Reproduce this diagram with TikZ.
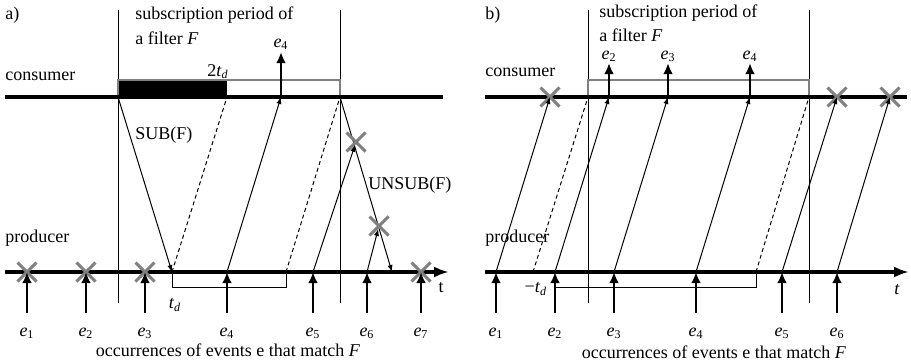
\documentclass[tikz,border=0pt]{standalone}
\usepackage{fontspec}
\setmainfont{Liberation Serif}
\usetikzlibrary{arrows.meta,shapes.misc,positioning,calc}
\definecolor{MarkGray}{RGB}{128,128,128}
\newcommand{\ev}[1]{\textit{e}\textsubscript{#1}}
\newcommand{\tdly}{\textit{t}\textsubscript{\textit{d}}}
\tikzset{
  timeline/.style={line width=1.6pt},
  evarrow/.style={line width=1.2pt,-{Latex[length=5.5pt,width=4.8pt]}},
  msg/.style={line width=0.5pt,-{Latex[length=3.5pt,width=2.6pt]}},
  dashmsg/.style={line width=0.5pt,dash pattern=on 2pt off 1.5pt},
  bound/.style={line width=0.5pt},
  period/.style={line width=0.6pt,MarkGray},
  xmark/.style={cross out,draw=MarkGray,line width=1.5pt,minimum size=8pt,inner sep=0pt},
  txt/.style={inner sep=0pt}
}

\begin{document}
\begin{tikzpicture}[x=0.5pt,y=-0.5pt,font=\fontsize{9}{10}\selectfont]
  \useasboundingbox (0,0) rectangle (911,364);

  % ---------------- a) ----------------
  \node[txt,anchor=west] (la) at (5,15) {a)};
  \node[txt,anchor=west] (suba) at (135,15) {subscription period of};
  \node[txt,anchor=west] (filta) at (135,38) {a filter \textit{F}};
  \node[txt,anchor=west] (cona) at (5,76) {consumer};
  \node[txt,anchor=west] (proa) at (5,238) {producer};

  % subscription bounds
  \coordinate (sa1) at (118,10); \coordinate (sa1b) at (118,303);
  \coordinate (sa2) at (340,10); \coordinate (sa2b) at (340,303);
  \draw[bound] (sa1) -- (sa1b);
  \draw[bound] (sa2) -- (sa2b);

  % consumer timeline and period box
  \coordinate (ca0) at (118,97); \coordinate (ca2td) at (227,97);
  \coordinate (caend) at (340,97);
  \fill (118,80) rectangle (ca2td);
  \draw[period] (ca0) |- (340,80) -- (caend);
  \draw[timeline] (5,97) coordinate (cal) -- (443,97) coordinate (car);
  \node[txt,anchor=south] (twotd) at (218,79) {2\tdly};

  % producer timeline
  \coordinate (pal) at (5,272); \coordinate (par) at (449,272);
  \draw[timeline,-{Latex[length=7.5pt,width=5.5pt]}] (pal) -- (par);
  \node[txt] (ta) at (441,288) {t};

  % events at the producer
  \foreach \i/\x in {1/27,2/86,3/145,4/227,5/313,6/367,7/421}{
    \coordinate (pa\i) at (\x,272);
    \coordinate (ba\i) at (\x,313);
    \node[txt] (ea\i) at (\x,333) {\ev{\i}};
  }
  \foreach \i in {1,2,3,7}
    \node[xmark] (xa\i) at (pa\i) {};
  \foreach \i in {1,...,7}
    \draw[evarrow] (ba\i) -- (pa\i);
  \node[txt] (occa) at (228,350) {occurrences of events e that match \textit{F}};

  % messages
  \coordinate (pasub) at (172,272); \coordinate (paend) at (286,272);
  \coordinate (paunsub) at (392,272);
  \draw[msg] (ca0) -- (pasub);
  \node[txt,anchor=west] (sublbl) at (135,135) {SUB(F)};
  \draw[dashmsg] (pasub) -- (ca2td);
  \coordinate (ca4) at (281,97); \coordinate (ta4) at (281,52);
  \draw[msg] (pa4) -- (ca4);
  \draw[evarrow] (ca4) -- (ta4);
  \node[txt] (ca4lbl) at (281,44) {\ev{4}};
  \draw[dashmsg] (paend) -- (caend);
  \draw[msg] (caend) -- (paunsub);
  \node[txt,anchor=west] (unsublbl) at (368,185) {UNSUB(F)};
  \node[xmark] (xu5) at (356,142) {};
  \node[xmark] (xu6) at (379,226) {};
  \draw[msg,shorten >=1.5pt] (pa5) -- (xu5.center);
  \draw[msg,shorten >=1.5pt] (pa6) -- (xu6.center);

  % delay bracket
  \coordinate (tdl) at (172,287); \coordinate (tdr) at (286,287);
  \draw[bound] (pasub) -- (tdl) -- (tdr) -- (paend);
  \node[txt] (tdlbl) at (175,305) {\tdly};

  % ---------------- b) ----------------
  \node[txt,anchor=west] (lb) at (485,15) {b)};
  \node[txt,anchor=west] (subb) at (599,13) {subscription period of};
  \node[txt,anchor=west] (filtb) at (599,35) {a filter \textit{F}};
  \node[txt,anchor=west] (conb) at (485,72) {consumer};
  \node[txt,anchor=west] (prob) at (485,238) {producer};

  % subscription bounds
  \coordinate (sb1) at (588,10); \coordinate (sb1b) at (588,303);
  \coordinate (sb2) at (809,10); \coordinate (sb2b) at (809,303);
  \draw[bound] (sb1) -- (sb1b);
  \draw[bound] (sb2) -- (sb2b);

  % consumer timeline and period box
  \coordinate (cb0) at (588,97); \coordinate (cbend) at (809,97);
  \draw[period] (cb0) |- (809,80) -- (cbend);
  \draw[timeline] (485,97) coordinate (cbl) -- (907,97) coordinate (cbr);

  % producer timeline
  \coordinate (pbl) at (485,272); \coordinate (pbr) at (909,272);
  \draw[timeline,-{Latex[length=7.5pt,width=5.5pt]}] (pbl) -- (pbr);
  \node[txt] (tb) at (897,290) {\textit{t}};

  % events at the producer, forwarded to the consumer
  \foreach \i/\x/\y in {1/496/550,2/555/609,3/614/668,4/696/750,5/782/837,6/837/890}{
    \coordinate (pb\i) at (\x,272);
    \coordinate (bb\i) at (\x,313);
    \coordinate (cb\i) at (\y,97);
    \node[txt] (eb\i) at (\x,333) {\ev{\i}};
  }
  \foreach \i in {1,5,6}
    \node[xmark] (xb\i) at (cb\i) {};
  \foreach \i in {1,...,6}{
    \draw[evarrow] (bb\i) -- (pb\i);
    \draw[msg] (pb\i) -- (cb\i);
  }
  \foreach \i in {2,3,4}{
    \draw[evarrow] (cb\i) -- ++(0,-34) coordinate (tb\i);
    \node[txt] (tb\i lbl) at ($(cb\i)+(0,-41)$) {\ev{\i}};
  }
  \node[txt] (occb) at (714,352) {occurrences of events e that match \textit{F}};

  % dashed limits and bracket
  \coordinate (pbsub) at (533,272); \coordinate (pbend) at (756,272);
  \draw[dashmsg] (pbsub) -- (cb0);
  \draw[dashmsg] (pbend) -- (cbend);
  \coordinate (tdbl) at (555,287); \coordinate (tdbr) at (756,287);
  \draw[bound] (tdbl) -- (tdbr) -- (pbend);
  \node[txt] (tdblbl) at (536,289) {\textminus\tdly};
\end{tikzpicture}
\end{document}
